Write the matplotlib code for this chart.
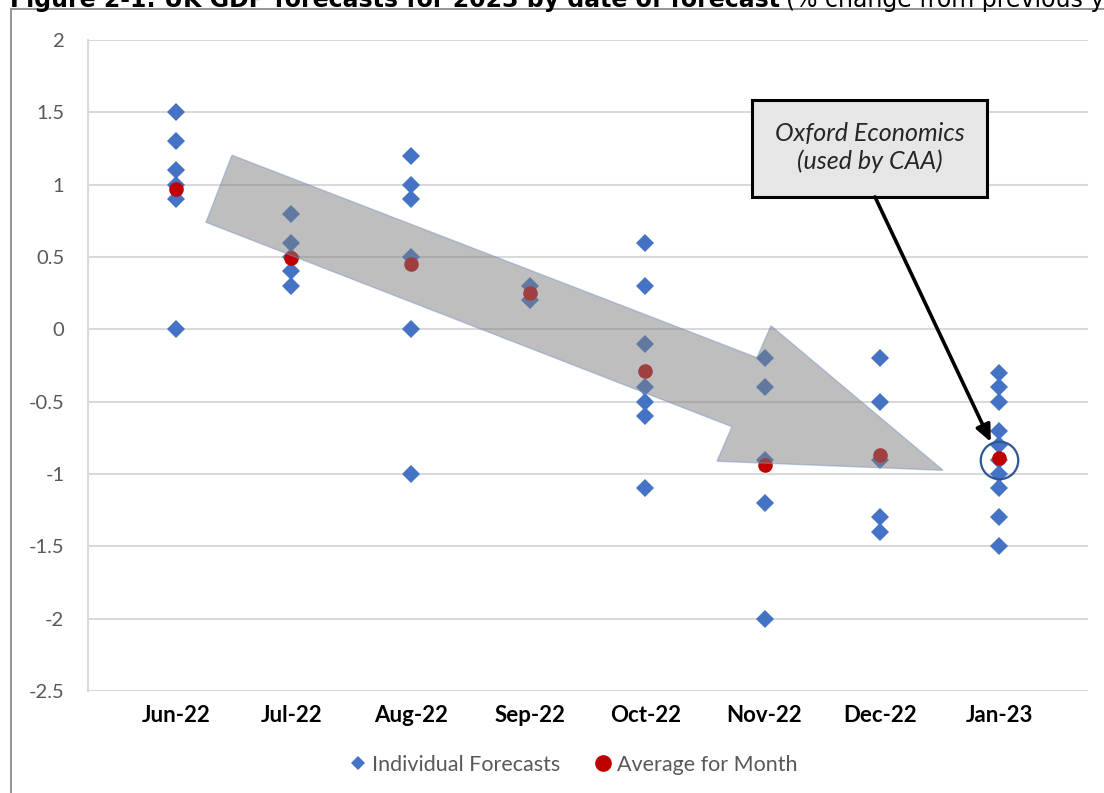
import datetime as dt
import matplotlib
matplotlib.use('Agg')
import matplotlib.pyplot as plt
import matplotlib.dates as mdates
from matplotlib.patches import Polygon, Rectangle
from matplotlib.lines import Line2D

# Dados
meses = ['Jun-22', 'Jul-22', 'Aug-22', 'Sep-22', 'Oct-22', 'Nov-22', 'Dec-22', 'Jan-23']
datas = [dt.date(2022, 6, 1), dt.date(2022, 7, 1), dt.date(2022, 8, 1), dt.date(2022, 9, 1),
         dt.date(2022, 10, 1), dt.date(2022, 11, 1), dt.date(2022, 12, 1), dt.date(2023, 1, 1)]

prev_jun = [1.5, 1.3, 1.1, 1.0, 0.9, 0.0]
prev_jul = [0.8, 0.6, 0.5, 0.4, 0.3]
prev_aug = [1.2, 1.0, 0.9, 0.5, 0.0, -1.0]
prev_sep = [0.3, 0.2]
prev_oct = [0.6, 0.3, -0.1, -0.4, -0.5, -0.6, -1.1]
prev_nov = [-0.2, -0.4, -0.9, -1.2, -2.0]
prev_dec = [-0.2, -0.5, -0.9, -1.3, -1.4]
prev_jan = [-0.3, -0.4, -0.5, -0.7, -0.8, -0.9, -1.0, -1.1, -1.3, -1.5]
previsoes = [prev_jun, prev_jul, prev_aug, prev_sep, prev_oct, prev_nov, prev_dec, prev_jan]

medias = [0.97, 0.49, 0.45, 0.25, -0.29, -0.94, -0.87, -0.89]
oxford = -0.9  # Oxford Economics, Jan-23

yticks = [2, 1.5, 1, 0.5, 0, -0.5, -1, -1.5, -2, -2.5]

azul = '#4472c4'
vermelho = '#c00000'
cinza_txt = '#595959'
fonte = ['Lato', 'DejaVu Sans']

W, H = 1104, 793
fig = plt.figure(figsize=(W / 100, H / 100), dpi=100)
fig.patch.set_facecolor('white')

# Moldura do grafico
fig.patches.append(Rectangle((11 / W, -0.1), 1.2, 1.1 - 9 / H, transform=fig.transFigure,
                             fill=False, edgecolor='#8c8c8c', linewidth=1.3))

# Titulo (cortado no topo, como no original)
t1 = fig.text(10 / W, 1 - 7 / H, 'Figure 2-1: UK GDP forecasts for 2023 by date of forecast',
              fontsize=17, fontweight='bold', family='DejaVu Sans', va='baseline', ha='left')
fig.canvas.draw()
bb = t1.get_window_extent()
fig.text(bb.x1 / W + 6 / W, 1 - 7 / H, '(% change from previous year)',
         fontsize=17, family='DejaVu Sans', va='baseline', ha='left')

ax = fig.add_axes([88 / W, 1 - 691 / H, 1000 / W, 651 / H])

# Pontos
for d, vals in zip(datas, previsoes):
    ax.plot([d] * len(vals), vals, linestyle='none', marker='D', markersize=8.8,
            color=azul, markeredgewidth=0, zorder=3)
ax.plot(datas, medias, linestyle='none', marker='o', markersize=10.5,
        color=vermelho, markeredgewidth=0, zorder=4)

# Seta cinza de tendencia
seta = [(0.144, 0.823), (0.669, 0.512), (0.683, 0.561), (0.855, 0.339),
        (0.629, 0.353), (0.644, 0.406), (0.118, 0.720)]
ax.add_patch(Polygon(seta, closed=True, transform=ax.transAxes, facecolor='#7f7f7f',
                     alpha=0.5, edgecolor='#7d95c4', linewidth=1.0, zorder=5))

# Circulo e caixa da Oxford Economics
ax.plot([datas[-1]], [oxford], linestyle='none', marker='o', markersize=27,
        markerfacecolor='none', markeredgecolor='#2f5597', markeredgewidth=1.6, zorder=6)
ax.add_patch(Rectangle((0.664, 0.759), 0.235, 0.149, transform=ax.transAxes,
                       facecolor='#e6e6e6', edgecolor='black', linewidth=2.2, zorder=7))
ax.text(0.7815, 0.835, 'Oxford Economics\n(used by CAA)', transform=ax.transAxes,
        ha='center', va='center', fontsize=18, style='italic', family=fonte,
        color='#262626', linespacing=1.25, zorder=8)
ax.annotate('', xy=(mdates.date2num(datas[-1]), oxford), xycoords='data',
            xytext=(0.787, 0.759), textcoords='axes fraction',
            arrowprops=dict(arrowstyle='-|>,head_length=1.0,head_width=0.45', color='black',
                            lw=2.6, shrinkA=0, shrinkB=14), zorder=7)

# Eixos
ax.set_ylim(-2.5, 2)
ax.set_yticks(yticks)
ax.set_yticklabels([('%g' % v) for v in yticks])
x0 = mdates.date2num(datas[0]) - 22.9
x1 = mdates.date2num(datas[-1]) + 23.1
ax.set_xlim(x0, x1)
ax.set_xticks(datas)
ax.set_xticklabels(meses)

ax.grid(axis='y', color='#d9d9d9', linewidth=1.5, zorder=0)
ax.set_axisbelow(True)
for s in ['top', 'right', 'bottom']:
    ax.spines[s].set_visible(False)
ax.spines['left'].set_color('#d9d9d9')
ax.spines['left'].set_linewidth(1.5)
ax.tick_params(axis='both', length=0)
ax.tick_params(axis='y', pad=17, labelsize=14.5, labelcolor=cinza_txt)
ax.tick_params(axis='x', pad=10, labelsize=16)
for lb in ax.get_xticklabels():
    lb.set_fontweight('bold')
    lb.set_family(fonte)
for lb in ax.get_yticklabels():
    lb.set_family(fonte)

# Legenda
h1 = Line2D([], [], linestyle='none', marker='D', markersize=7.5, color=azul, markeredgewidth=0)
h2 = Line2D([], [], linestyle='none', marker='o', markersize=12, color=vermelho, markeredgewidth=0)
fig.legend([h1, h2], ['Individual Forecasts', 'Average for Month'], loc='center',
           bbox_to_anchor=(571 / W, 1 - 765 / H), ncol=2, frameon=False,
           prop={'family': fonte, 'size': 15.5}, labelcolor=cinza_txt,
           handletextpad=0.05, columnspacing=1.4, handlelength=1.2)

fig.savefig('out.png', dpi=100)
